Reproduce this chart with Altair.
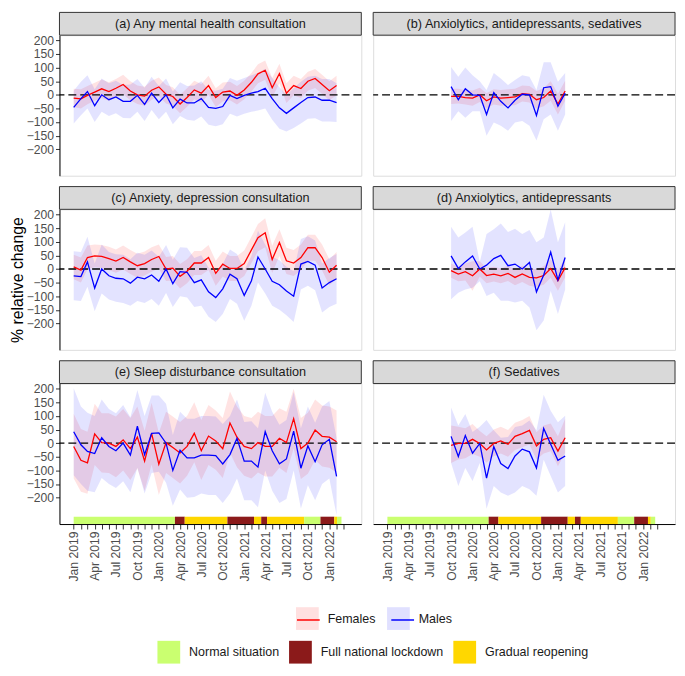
import altair as alt
import pandas as pd

FONT = "Liberation Sans, Arial, sans-serif"

# ---------------- categories ----------------
SEXES = ["Females", "Males"]
SEX_KEYS = ["F", "M"]
SEX_COLORS = ["#FF0000", "#0000FF"]

PERIOD_NAMES = ["Normal situation", "Full national lockdown", "Gradual reopening"]
PERIOD_COLORS = ["#CAFF70", "#8B1A1A", "#FFD700"]

PERIOD_START = ["2019-01-01", "2020-03-10", "2020-04-21", "2020-10-21", "2021-02-12", "2021-03-15",
                "2021-04-09", "2021-09-15", "2021-11-24", "2022-01-22", "2022-02-03"]
PERIOD_END = ["2020-03-10", "2020-04-21", "2020-10-21", "2021-02-12", "2021-03-15", "2021-04-09",
              "2021-09-15", "2021-11-24", "2022-01-22", "2022-02-03", "2022-02-22"]
PERIOD_KIND = ["Normal situation", "Full national lockdown", "Gradual reopening", "Full national lockdown",
               "Gradual reopening", "Full national lockdown", "Gradual reopening", "Normal situation",
               "Full national lockdown", "Gradual reopening", "Normal situation"]

MONTHS_LEFT = list(pd.date_range("2019-01-01", "2022-02-01", freq="MS").strftime("%Y-%m-%d"))   # 38
MONTHS_RIGHT = list(pd.date_range("2019-10-01", "2021-02-01", freq="MS").strftime("%Y-%m-%d"))  # 17
TICK_MONTHS = list(pd.date_range("2019-01-01", "2022-03-01", freq="MS"))

TITLES = ["(a) Any mental health consultation", "(b) Anxiolytics, antidepressants, sedatives",
          "(c) Anxiety, depression consultation", "(d) Anxiolytics, antidepressants",
          "(e) Sleep disturbance consultation", "(f) Sedatives"]
Y_TICKS = [-200, -150, -100, -50, 0, 50, 100, 150, 200]

# ---------------- (a) Any mental health consultation ----------------
A_F = [-12, -15, -2, 10, 22, 12, 24, 38, 14, 0, -5, 17, 29, 2, -6, -34, -10, 18, 6, 34, -10, 10, 14, -2,
       18, 46, 77, 90, 26, 78, 6, 34, 23, 50, 60, 38, 15, 34]
A_F_LO = [-45, -50, -35, -22, -12, -22, -10, 2, -20, -34, -40, -18, -5, -32, -40, -68, -44, -16, -28, 0,
          -45, -25, -20, -36, -16, 12, 42, 55, -10, 42, -30, -2, -12, 15, 25, 3, -20, -2]
A_F_HI = [22, 20, 32, 44, 56, 46, 58, 74, 50, 34, 30, 52, 64, 36, 28, 0, 24, 52, 40, 70, 24, 45, 48, 32,
          52, 80, 112, 126, 62, 114, 42, 70, 58, 85, 95, 74, 50, 70]
A_M = [-46, -14, 12, -40, 0, -18, -8, -24, -24, -2, -35, 6, -28, 0, -48, -16, -30, -30, -14, -46, -50, -43,
       -2, -14, -2, 6, 12, 24, -14, -48, -68, -48, -28, -10, -8, -20, -20, -29]
A_M_LO = [-105, -75, -50, -100, -62, -78, -68, -85, -86, -62, -96, -56, -90, -62, -108, -78, -92, -95, -80,
          -110, -115, -108, -70, -80, -70, -62, -58, -50, -92, -125, -135, -122, -105, -88, -86, -98, -98, -100]
A_M_HI = [15, 48, 72, 20, 60, 42, 52, 36, 38, 58, 26, 66, 32, 60, 12, 46, 32, 34, 50, 18, 15, 22, 62, 52,
          62, 72, 80, 96, 62, 28, 0, 24, 48, 66, 70, 58, 58, 42]

# ---------------- (c) Anxiety, depression consultation ----------------
C_F = [8, -4, 42, 48, 46, 38, 29, 42, 26, 12, 20, 35, 46, 0, 3, -27, -8, 22, 22, 42, -16, 18, 2, 2, 20,
       70, 115, 133, 35, 97, 30, 22, 42, 78, 78, 42, -12, 14]
C_F_LO = [-38, -50, -2, 6, 4, -5, -14, -2, -18, -32, -24, -10, 2, -44, -42, -72, -52, -22, -22, -4, -62,
          -28, -44, -44, -26, 22, 65, 80, -15, 48, -18, -26, -6, 30, 30, -6, -60, -35]
C_F_HI = [52, 42, 86, 90, 88, 82, 72, 86, 70, 56, 64, 80, 90, 44, 48, 18, 36, 66, 66, 88, 30, 64, 48, 48,
          68, 118, 165, 186, 85, 146, 78, 70, 90, 126, 126, 90, 36, 62]
C_M = [-25, -28, 26, -70, 0, -25, -34, -36, -52, -30, -36, -22, -45, 0, -54, -10, -12, -50, -40, -84, -105,
       -73, -19, -36, -97, -43, 44, 0, -45, -58, -81, -100, 18, 28, 14, -70, -50, -36]
C_M_LO = [-115, -118, -65, -155, -90, -112, -120, -125, -135, -118, -125, -110, -135, -88, -140, -100, -105,
          -140, -135, -175, -195, -165, -110, -128, -190, -135, -50, -90, -135, -150, -170, -195, -75, -62,
          -78, -160, -140, -128]
C_M_HI = [65, 62, 118, 20, 90, 62, 54, 52, 36, 60, 52, 68, 45, 88, 34, 80, 78, 40, 50, 5, -15, 18, 72, 55,
          -5, 48, 140, 90, 45, 32, 8, -8, 110, 120, 105, 20, 40, 55]

# ---------------- (e) Sleep disturbance consultation ----------------
E_F = [-12, -63, -72, 34, 2, 0, -12, 12, -20, 22, -66, 36, -77, 2, -16, -36, -12, 36, -28, 26, 8, -20, 74,
       22, -12, -20, 2, -12, -12, 18, 2, 90, -20, 0, 48, 25, 22, 5]
E_F_LO = [-130, -178, -186, -80, -108, -110, -125, -100, -135, -92, -175, -78, -190, -110, -128, -148, -120,
          -70, -135, -80, -98, -128, -35, -88, -120, -130, -108, -122, -122, -90, -110, -20, -132, -112, -62,
          -86, -90, -108]
E_F_HI = [108, 52, 42, 145, 110, 110, 98, 125, 92, 135, 46, 148, 38, 115, 98, 78, 100, 150, 85, 140, 120,
          92, 190, 135, 100, 92, 115, 100, 100, 128, 115, 200, 92, 112, 160, 138, 135, 120]
E_M = [42, -6, -30, -38, 20, -12, -28, 0, -44, 62, -42, 36, 38, 0, -100, -26, -54, -54, -44, -44, -46, -76,
       -42, 18, -66, -66, -88, 42, -28, -76, -58, 44, -92, -10, -68, -6, 14, -122]
E_M_LO = [-118, -150, -175, -180, -128, -150, -165, -140, -180, -90, -185, -110, -105, -145, -230, -170,
          -200, -198, -185, -190, -190, -220, -185, -130, -210, -210, -235, -100, -175, -220, -205, -100,
          -240, -155, -210, -150, -130, -265]
E_M_HI = [202, 135, 112, 100, 160, 125, 110, 140, 95, 195, 100, 175, 175, 145, 30, 115, 90, 90, 100, 100,
          98, 70, 100, 160, 78, 80, 55, 185, 115, 68, 85, 188, 55, 135, 75, 135, 155, 20]

# ---------------- (b) Anxiolytics, antidepressants, sedatives ----------------
B_F = [-6, -6, -10, -12, 0, -22, -8, -12, -10, -8, 4, 2, -18, -10, 14, -34, 14]
B_F_LO = [-34, -32, -36, -40, -26, -50, -36, -40, -38, -38, -25, -28, -50, -42, -22, -72, -22]
B_F_HI = [22, 22, 18, 16, 26, 6, 20, 18, 20, 22, 34, 32, 14, 24, 50, 4, 52]
B_M = [30, -18, 22, 0, -2, -72, 8, -24, -48, -20, 2, 0, -76, 26, 30, -42, 6]
B_M_LO = [-96, -60, -84, -60, -60, -150, -102, -114, -132, -102, -96, -114, -168, -90, -72, -132, -72]
B_M_HI = [102, 66, 100, 72, 50, 18, 80, 60, 36, 54, 72, 66, 18, 120, 120, 48, 80]

# ---------------- (d) Anxiolytics, antidepressants ----------------
D_F = [-6, -19, -10, -25, 0, -24, -19, -25, -16, -31, -18, -31, -33, -24, 2, -43, 5]
D_F_LO = [-32, -45, -42, -80, -28, -52, -46, -52, -44, -60, -48, -62, -66, -58, -32, -80, -30]
D_F_HI = [20, 8, 20, 28, 28, 4, 8, 2, 12, -2, 12, 0, 0, 10, 36, -6, 40]
D_M = [48, 2, 26, 48, 0, 14, 38, 50, 12, 18, 0, 24, -84, -22, 62, -40, 42]
D_M_LO = [-111, -87, -75, -69, -45, -99, -87, -117, -117, -123, -117, -141, -225, -189, -81, -165, -75]
D_M_HI = [155, 116, 134, 155, 26, 128, 146, 167, 136, 148, 128, 143, 98, 116, 218, 98, 172]

# ---------------- (f) Sedatives ----------------
F_F = [-8, -1, -1, 14, -1, -25, -1, 8, -4, 25, 35, 47, -10, 14, 20, -29, 20]
F_F_LO = [-73, -60, -55, -40, -50, -72, -48, -38, -50, -25, -15, -5, -60, -38, -30, -85, -35]
F_F_HI = [65, 60, 55, 70, 45, 25, 50, 60, 48, 75, 85, 100, 40, 65, 72, 25, 90]
F_M = [25, -49, 28, -37, -1, -128, -13, -75, -93, -47, -22, -32, -91, 54, -4, -63, -47]
F_M_LO = [-73, -157, -91, -139, -73, -241, -157, -181, -193, -181, -157, -169, -193, -61, -121, -181, -157]
F_M_HI = [131, 65, 107, 41, 60, 85, 47, 20, 23, 59, 65, 83, 47, 178, 119, 77, 101]

# ---------------- layout constants ----------------
W, H = 305, 142
STRIP_H = 23
Y_DOMAIN = [-297, 219]
BAR_Y = [-297, -270]


def ms(s):
    return int(pd.Timestamp(s, tz="UTC").value // 10**6)


x_scale = alt.Scale(type="utc", domain=[ms("2018-11-01"), ms("2022-05-18")], nice=False)
y_scale = alt.Scale(domain=Y_DOMAIN, nice=False, zero=False)
sex_scale = alt.Scale(domain=SEXES, range=SEX_COLORS)
sexkey_scale = alt.Scale(domain=SEX_KEYS, range=SEX_COLORS)
period_scale = alt.Scale(domain=PERIOD_NAMES, range=PERIOD_COLORS)

tick_values = [ms(t.strftime("%Y-%m-%d")) for t in TICK_MONTHS]


def x_axis_def():
    return alt.Axis(values=tick_values,
                    labelExpr="utcmonth(datum.value) % 3 == 0 ? utcFormat(datum.value, '%b %Y') : ''",
                    labelAngle=270, labelFontSize=12.3, labelFont=FONT, labelColor="#4D4D4D",
                    tickColor="#333333", tickSize=5, tickWidth=1, domainColor="black", domainWidth=1,
                    labelPadding=2, title=None, grid=False, labelOverlap=False, labelFlush=False,
                    labelBound=False)


def y_axis_def(title_opacity):
    return alt.Axis(values=Y_TICKS, labelFontSize=12.3, labelFont=FONT, labelColor="#4D4D4D",
                    tickColor="#333333", tickSize=4, tickWidth=1, domainColor="black", domainWidth=1,
                    labelPadding=2, grid=False, title="% relative change", titleFontSize=16,
                    titleFont=FONT, titleFontWeight="normal", titleColor="black", titlePadding=1,
                    titleOpacity=title_opacity)


def build_df(dates, f, flo, fhi, m, mlo, mhi):
    rows = []
    for sex, v, lo, hi in ((SEXES[0], f, flo, fhi), (SEXES[1], m, mlo, mhi)):
        for d, a, b, c in zip(dates, v, lo, hi):
            rows.append({"date": d, "sex": sex, "val": a, "lo": b, "hi": c})
    return pd.DataFrame(rows)


def panel(title, df, show_y, title_opacity, show_x):
    x_axis = x_axis_def() if show_x else None
    y_axis = y_axis_def(title_opacity) if show_y else None
    xenc = alt.X("date:T", scale=x_scale, axis=x_axis)

    bands = alt.Chart(df).mark_area(fillOpacity=0.11, strokeWidth=0).encode(
        x=xenc,
        y=alt.Y("lo:Q", scale=y_scale, axis=y_axis),
        y2="hi:Q",
        fill=alt.Fill("sex:N", scale=sex_scale, legend=None),
    )
    zero = alt.Chart(pd.DataFrame({"z": [0]})).mark_rule(
        color="black", strokeDash=[8, 4], strokeWidth=1.3
    ).encode(y=alt.YDatum(datum=0, scale=y_scale, axis=y_axis))
    lines = alt.Chart(df).mark_line(strokeWidth=1.3).encode(
        x=xenc,
        y=alt.Y("val:Q", scale=y_scale, axis=y_axis),
        stroke=alt.Stroke("sex:N", scale=sex_scale, legend=None),
    )
    layers = [bands, zero, lines]
    if show_x:
        per_df = pd.DataFrame({"start": PERIOD_START, "end": PERIOD_END, "period": PERIOD_KIND})
        strip = alt.Chart(per_df).mark_rect().encode(
            x=alt.X("start:T", scale=x_scale, axis=x_axis),
            x2="end:T",
            y=alt.YDatum(datum=BAR_Y[0], scale=y_scale, axis=y_axis),
            y2=alt.Y2Datum(datum=BAR_Y[1]),
            color=alt.Color("period:N", scale=period_scale, legend=None),
        )
        layers.append(strip)
    hdr_df = pd.DataFrame({"label": [title]})
    hdr_rect = alt.Chart(hdr_df).mark_rect(fill="#D9D9D9", stroke="#333333", strokeWidth=1).encode(
        x=alt.value(0), x2=alt.value(W), y=alt.value(-STRIP_H), y2=alt.value(0)
    )
    hdr_text = alt.Chart(hdr_df).mark_text(fontSize=12.8, font=FONT, color="#1A1A1A").encode(
        x=alt.value(W / 2), y=alt.value(-STRIP_H / 2), text="label:N"
    )
    layers += [hdr_rect, hdr_text]
    return alt.layer(*layers).properties(width=W, height=H)


df_a = build_df(MONTHS_LEFT, A_F, A_F_LO, A_F_HI, A_M, A_M_LO, A_M_HI)
df_c = build_df(MONTHS_LEFT, C_F, C_F_LO, C_F_HI, C_M, C_M_LO, C_M_HI)
df_e = build_df(MONTHS_LEFT, E_F, E_F_LO, E_F_HI, E_M, E_M_LO, E_M_HI)
df_b = build_df(MONTHS_RIGHT, B_F, B_F_LO, B_F_HI, B_M, B_M_LO, B_M_HI)
df_d = build_df(MONTHS_RIGHT, D_F, D_F_LO, D_F_HI, D_M, D_M_LO, D_M_HI)
df_f = build_df(MONTHS_RIGHT, F_F, F_F_LO, F_F_HI, F_M, F_M_LO, F_M_HI)

pa = panel(TITLES[0], df_a, True, 0, False)
pb = panel(TITLES[1], df_b, False, 0, False)
pc = panel(TITLES[2], df_c, True, 1, False)
pd_ = panel(TITLES[3], df_d, False, 0, False)
pe = panel(TITLES[4], df_e, True, 0, True)
pf = panel(TITLES[5], df_f, False, 0, True)

row1 = alt.hconcat(pa, pb, spacing=8)
row2 = alt.hconcat(pc, pd_, spacing=8)
row3 = alt.hconcat(pe, pf, spacing=8)

# ---------------- legends ----------------
LEG_SEX_X, LEG_SEX_Y = 239, 16
LEG_PER_X, LEG_PER_Y = 99, 50
LEG_FONT = 12.6
FEMALES_LABEL_W = 48.3   # width of the "Females" label at LEG_FONT, used to align the overlaid keys
common = dict(orient="none", direction="horizontal", title=None, symbolSize=529, labelFontSize=LEG_FONT,
              labelFont=FONT, labelColor="#1A1A1A", padding=0)

hidden = dict(x=alt.value(-40), y=alt.value(-40))
leg_sex_df = pd.DataFrame({"sex": SEXES})
leg_key_df = pd.DataFrame({"sexkey": SEX_KEYS})
leg_per_df = pd.DataFrame({"period": PERIOD_NAMES})

l_fill = alt.Chart(leg_sex_df).mark_point(filled=True, clip=True).encode(
    fill=alt.Fill("sex:N", scale=sex_scale,
                  legend=alt.Legend(legendX=LEG_SEX_X, legendY=LEG_SEX_Y, symbolType="square",
                                    symbolOpacity=0.12, symbolStrokeWidth=0,
                                    symbolStrokeColor="transparent", labelOffset=9,
                                    columnPadding=11, **common)),
    **hidden)
l_stroke = alt.Chart(leg_key_df).mark_point(clip=True).encode(
    stroke=alt.Stroke("sexkey:N", scale=sexkey_scale,
                      legend=alt.Legend(legendX=LEG_SEX_X, legendY=LEG_SEX_Y, symbolType="stroke",
                                        symbolOpacity=1, symbolStrokeWidth=1.5,
                                        labelExpr="''", labelOffset=9,
                                        columnPadding=11 + FEMALES_LABEL_W, **common)),
    **hidden)
l_per = alt.Chart(leg_per_df).mark_point(filled=True, clip=True).encode(
    color=alt.Color("period:N", scale=period_scale,
                    legend=alt.Legend(legendX=LEG_PER_X, legendY=LEG_PER_Y, symbolType="square",
                                      symbolOpacity=1, symbolStrokeWidth=0,
                                      symbolStrokeColor="transparent", labelOffset=9,
                                      columnPadding=10, **common)),
    **hidden)
legend_chart = alt.layer(l_fill, l_stroke, l_per).properties(
    width=600, height=73, view=alt.ViewBackground(stroke="transparent", strokeWidth=0)
)

chart = alt.vconcat(row1, row2, row3, legend_chart, spacing=9).resolve_scale(
    stroke="independent"
).resolve_legend(
    fill="independent", stroke="independent", color="independent"
).properties(padding=0).configure_view(strokeWidth=0, stroke="transparent").configure(
    font=FONT, padding=0
)

chart.save("out.html", embed_options={"renderer": "svg", "actions": False})
